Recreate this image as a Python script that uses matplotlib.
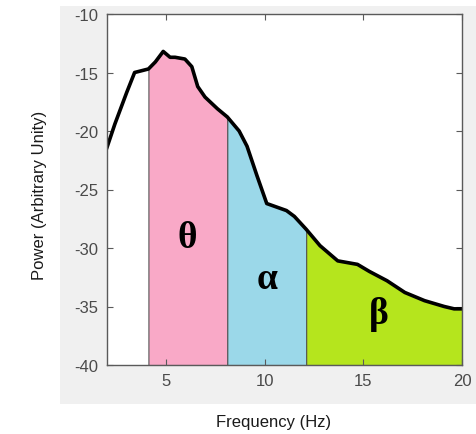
import matplotlib.pyplot as plt
from matplotlib.patches import Rectangle

plt.rcParams["axes.unicode_minus"] = False

# Power spectrum (dB-like arbitrary units) vs frequency
freq = [2.0, 2.4, 3.0, 3.4, 4.1, 4.45, 4.85, 5.2, 5.45, 5.95, 6.3, 6.6, 6.97,
        7.6, 8.1, 8.7, 9.1, 9.6, 10.1, 10.6, 11.1, 11.5, 12.1, 12.8, 13.7,
        14.7, 15.3, 16.2, 17.1, 18.1, 19.1, 19.6, 20.0]
power = [-21.4, -19.4, -16.7, -15.0, -14.7, -14.1, -13.2, -13.7, -13.7, -13.85,
         -14.5, -16.2, -17.1, -18.1, -18.8, -20.0, -21.3, -23.8, -26.2, -26.5,
         -26.8, -27.3, -28.4, -29.8, -31.1, -31.4, -32.0, -32.8, -33.8, -34.5,
         -35.0, -35.2, -35.2]

# frequency bands: (symbol, start, end, colour)
bands = [("θ", 4.1, 8.1, "#F9A9C7"),
         ("α", 8.1, 12.1, "#9BD8E9"),
         ("β", 12.1, 20.0, "#B5E51D")]
label_pos = [(6.06, -29.1), (10.1, -32.6), (15.8, -35.6)]

fig = plt.figure(figsize=(4.77, 4.35), dpi=100)
fig.patch.set_facecolor("white")
# grey panel behind the axes
fig.patches.append(Rectangle((60 / 477, 30 / 435), 417 / 477, 398 / 435,
                             transform=fig.transFigure, facecolor="#F0F0F0",
                             edgecolor="none", zorder=-10))

ax = fig.add_axes([107 / 477, 69 / 435, 355 / 477, 351 / 435])
ax.set_zorder(5)
ax.set_facecolor("white")

for (sym, f0, f1, col), (tx, ty) in zip(bands, label_pos):
    i0 = freq.index(f0)
    i1 = freq.index(f1)
    xs = freq[i0:i1 + 1]
    ys = power[i0:i1 + 1]
    ax.fill_between(xs, ys, -40, facecolor=col, edgecolor="#555555",
                    linewidth=0.8, zorder=1)
    ax.text(tx, ty, sym, fontsize=27, fontweight="bold",
            family="Liberation Serif", ha="center", va="center", zorder=3)

ax.plot(freq, power, color="black", linewidth=2.6, zorder=2)

ax.set_xlim(2, 20)
ax.set_ylim(-40, -10)
ax.set_xticks([5, 10, 15, 20])
ax.set_yticks([-40, -35, -30, -25, -20, -15, -10])

for s in ax.spines.values():
    s.set_color("#5A5A5A")
    s.set_linewidth(1.0)
ax.tick_params(direction="in", length=4, width=0.8, color="#5A5A5A",
               top=True, right=True, labelsize=12, labelcolor="#4A4A4A", pad=6)
for lab in ax.get_xticklabels() + ax.get_yticklabels():
    lab.set_family("Liberation Sans")

fig.text(274 / 477, 1 - 423 / 435, "Frequency (Hz)", ha="center", va="center",
         fontsize=12, family="Liberation Sans", color="#1A1A1A")
fig.text(40 / 477, 1 - 195 / 435, "Power (Arbitrary Unity)", ha="center",
         va="center", rotation=90, fontsize=12, family="Liberation Sans",
         color="#1A1A1A")

fig.savefig("out.png", dpi=100, facecolor="white")
